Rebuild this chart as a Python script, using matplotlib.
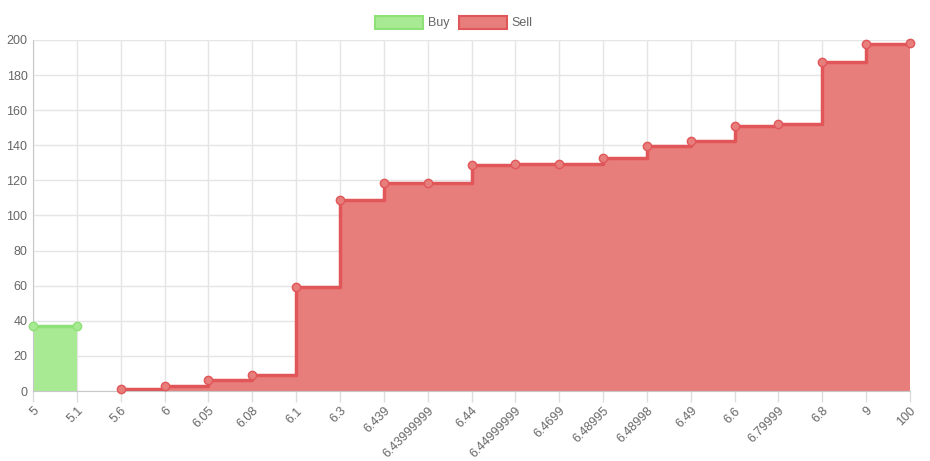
import numpy as np
import matplotlib
matplotlib.use("Agg")
import matplotlib.pyplot as plt
from matplotlib.patches import Patch

plt.rcParams['font.family'] = ['Liberation Sans', 'DejaVu Sans']

labels = ['5', '5.1', '5.6', '6', '6.05', '6.08', '6.1', '6.3', '6.439', '6.43999999',
          '6.44', '6.44999999', '6.4699', '6.48995', '6.48998', '6.49', '6.6',
          '6.79999', '6.8', '9', '100']
buy = [37, 37] + [np.nan] * 19
sell = [np.nan, np.nan, 1, 3, 6, 9, 59, 109, 118.5, 118.5, 129, 129.5, 129.5,
        132.5, 139.5, 142.5, 151, 152, 187.5, 197.5, 198.5]

buy_fill, buy_line = '#a8ea93', '#8ee176'
sell_fill, sell_line = '#e77e7c', '#e15659'

fig = plt.figure(figsize=(9.3, 4.61), dpi=100)
ax = fig.add_axes([33 / 930, 1 - 391 / 461, 877 / 930, 351 / 461])

x = np.arange(len(labels))
buy = np.array(buy, dtype=float)
sell = np.array(sell, dtype=float)

for vals, fc, lc in [(buy, buy_fill, buy_line), (sell, sell_fill, sell_line)]:
    m = ~np.isnan(vals)
    ax.fill_between(x[m], 0, vals[m], step='post', color=fc, lw=0, zorder=2)
    ax.step(x[m], vals[m], where='post', color=lc, lw=2.5, zorder=3)
    ax.plot(x[m], vals[m], 'o', ms=6, color=fc, mec=lc, mew=1, zorder=4, clip_on=False)

ax.set_xlim(0, len(labels) - 1)
ax.set_ylim(0, 200)
ax.set_yticks(range(0, 201, 20))
ax.set_xticks(x)
ax.set_xticklabels(labels, rotation=45, ha='right', rotation_mode='anchor')
ax.tick_params(axis='both', colors='#dddddd', labelcolor='#666666',
               labelsize=9, length=8, width=1)
ax.tick_params(axis='x', pad=2)
ax.tick_params(axis='y', length=0, pad=4)
ax.grid(True, color='#e5e5e5', lw=1, zorder=0)
ax.set_axisbelow(True)
for s in ['top', 'right']:
    ax.spines[s].set_visible(False)
for s in ['left', 'bottom']:
    ax.spines[s].set_color('#c8c8c8')

handles = [Patch(facecolor=buy_fill, edgecolor=buy_line, lw=1.5, label='Buy'),
           Patch(facecolor=sell_fill, edgecolor=sell_line, lw=1.5, label='Sell')]
leg = fig.legend(handles=handles, loc='upper center', bbox_to_anchor=(0.488, 0.99),
                 ncol=2, frameon=False, fontsize=9, handlelength=3.8, handleheight=1.2,
                 columnspacing=0.8, handletextpad=0.4)
for t in leg.get_texts():
    t.set_color('#666666')

fig.savefig('out.png', dpi=100)
